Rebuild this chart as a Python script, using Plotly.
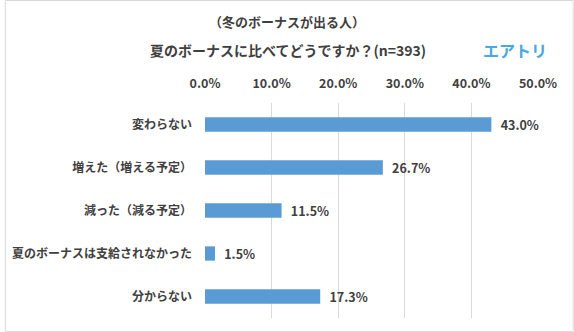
import plotly.graph_objects as go

# Survey answers and their shares (%)
categories = ["変わらない", "増えた（増える予定）", "減った（減る予定）", "夏のボーナスは支給されなかった", "分からない"]
shares = [43.0, 26.7, 11.5, 1.5, 17.3]
tick_values = [0, 10, 20, 30, 40, 50]

W, H = 574, 332
L, R, T, B = 202, 36, 103, 14

FONT = "Noto Sans CJK JP, Noto Sans, sans-serif"
TEXT = "#404040"
BAR = "#5B9BD5"

fig = go.Figure(go.Bar(
    x=shares,
    y=categories,
    orientation="h",
    marker=dict(color=BAR, line=dict(width=0)),
    text=[f"\u2002{v:.1f}%" for v in shares],
    textposition="outside",
    constraintext="none",
    textfont=dict(family=FONT, size=12.5, color=TEXT, weight="bold"),
    cliponaxis=False,
    hoverinfo="skip",
))

pw = W - L - R
ph = H - T - B

fig.update_layout(
    width=W, height=H,
    margin=dict(l=L, r=R, t=T, b=B),
    paper_bgcolor="white",
    plot_bgcolor="white",
    bargap=0.667,
    showlegend=False,
    font=dict(family=FONT, color=TEXT),
    xaxis=dict(
        side="top",
        range=[0, 50],
        tickvals=tick_values,
        ticktext=[f"{v:.1f}%" for v in tick_values],
        showgrid=True, gridcolor="#D9D9D9", gridwidth=1,
        zeroline=False, showline=False, ticks="",
        tickfont=dict(family=FONT, size=12.5, color=TEXT, weight="bold"),
        ticklabelstandoff=12,
        fixedrange=True,
    ),
    yaxis=dict(
        categoryorder="array",
        categoryarray=categories,
        autorange="reversed",
        showgrid=False, zeroline=False, showline=False, ticks="",
        tickfont=dict(family=FONT, size=12, color=TEXT, weight="bold"),
        ticklabelstandoff=12,
        fixedrange=True,
    ),
    annotations=[
        dict(text="（冬のボーナスが出る人）", xref="paper", yref="paper",
             x=(285 - L) / pw, y=(H - 22 - B) / ph, xanchor="center", yanchor="middle",
             showarrow=False, font=dict(family=FONT, size=13, color=TEXT, weight="bold")),
        dict(text="夏のボーナスに比べてどうですか？(n=393)", xref="paper", yref="paper",
             x=(286 - L) / pw, y=(H - 50 - B) / ph, xanchor="center", yanchor="middle",
             showarrow=False, font=dict(family=FONT, size=14, color=TEXT, weight="bold")),
        dict(text="エアトリ", xref="paper", yref="paper",
             x=(515 - L) / pw, y=(H - 50 - B) / ph, xanchor="center", yanchor="middle",
             showarrow=False, font=dict(family=FONT, size=16, color="#4AA8DF", weight="bold")),
    ],
    shapes=[
        dict(type="rect", xref="paper", yref="paper",
             x0=(0.5 - L) / pw, x1=(W - 0.5 - L) / pw,
             y0=(0.5 - B) / ph, y1=(H - 0.5 - B) / ph,
             line=dict(color="#D9D9D9", width=1), fillcolor="rgba(0,0,0,0)", layer="below"),
    ],
)

fig.write_html("out.html")
